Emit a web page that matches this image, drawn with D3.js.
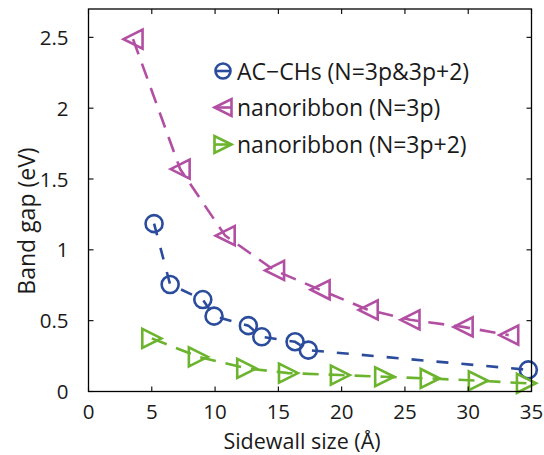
<!DOCTYPE html>
<html>
<head>
<meta charset="utf-8">
<script src="https://cdn.jsdelivr.net/npm/d3@7"></script>
<style>
  body { margin: 0; background: #fff; }
  text { font-family: "Open Sans", sans-serif; fill: #1a1a1a; }
</style>
</head>
<body>
<svg id="chart"></svg>
<script>
// data
const acX = [5.18, 6.45, 9.03, 9.92, 12.63, 13.69, 16.32, 17.37, 34.75];
const acY = [1.185, 0.755, 0.649, 0.532, 0.465, 0.386, 0.351, 0.292, 0.153];

const n3pX = [3.52, 7.24, 10.8, 14.7, 18.3, 22.1, 25.4, 29.6, 33.2];
const n3pY = [2.487, 1.57, 1.1, 0.855, 0.718, 0.576, 0.506, 0.456, 0.398];

const n3p2X = [5.0, 8.68, 12.5, 15.8, 19.9, 23.4, 27.0, 30.8, 34.6];
const n3p2Y = [0.375, 0.245, 0.163, 0.13, 0.116, 0.104, 0.092, 0.076, 0.058];

const xTicks = [0, 5, 10, 15, 20, 25, 30, 35];
const yTicks = [0, 0.5, 1, 1.5, 2, 2.5];
const yTickLabels = ["0", "0.5", "1", "1.5", "2", "2.5"];

const seriesNames = ["AC\u2212CHs (N=3p&3p+2)", "nanoribbon (N=3p)", "nanoribbon (N=3p+2)"];
const seriesColors = ["#2b4c9c", "#b24fa2", "#6cb32e"];

const width = 544, height = 455;
const margin = { left: 88.5, right: 12.5, top: 9, bottom: 63.5 };

const svg = d3.select("#chart").attr("width", width).attr("height", height);

const x = d3.scaleLinear().domain([0, 35]).range([margin.left, width - margin.right]);
const y = d3.scaleLinear().domain([0, 2.7]).range([height - margin.bottom, margin.top]);

const tickLen = 5;

// series
let series = [
  { xs: acX, ys: acY, marker: "circle", dash: "12,13" },
  { xs: n3pX, ys: n3pY, marker: "left", dash: "16,10" },
  { xs: n3p2X, ys: n3p2Y, marker: "right", dash: "16,10" },
];

let line = d3.line().x((d) => x(d[0])).y((d) => y(d[1]));

function markerPath(type, s) {
  // triangle marker, s = half size
  if (type == "left") return `M${-s},0L${s},${-s}L${s},${s}Z`;
  return `M${s},0L${-s},${-s}L${-s},${s}Z`;
}

series.forEach((sr, i) => {
  let pts = sr.xs.map((v, j) => [v, sr.ys[j]]);
  let g = svg.append("g");
  g.append("path")
    .attr("d", line(pts))
    .style("fill", "none")
    .style("stroke", seriesColors[i])
    .style("stroke-width", 2.6)
    .style("stroke-dasharray", sr.dash);

  if (sr.marker == "circle") {
    g.selectAll("circle")
      .data(pts)
      .join("circle")
      .attr("cx", (d) => x(d[0]))
      .attr("cy", (d) => y(d[1]))
      .attr("r", 8.5)
      .style("fill", "none")
      .style("stroke", seriesColors[i])
      .style("stroke-width", 2.6);
  } else {
    g.selectAll(".tri")
      .data(pts)
      .join("path")
      .attr("class", "tri")
      .attr("transform", (d) => `translate(${x(d[0])},${y(d[1])})`)
      .attr("d", markerPath(sr.marker, 9.5))
      .style("fill", "none")
      .style("stroke", seriesColors[i])
      .style("stroke-width", 2.6)
      .style("stroke-linejoin", "miter");
  }
});

// frame and ticks
let frame = svg.append("g");
frame.append("rect")
  .attr("x", margin.left)
  .attr("y", margin.top)
  .attr("width", width - margin.left - margin.right)
  .attr("height", height - margin.top - margin.bottom)
  .style("fill", "none")
  .style("stroke", "#000")
  .style("stroke-width", 1.3);

xTicks.forEach((t) => {
  frame.append("line")
    .attr("x1", x(t)).attr("x2", x(t))
    .attr("y1", y(0)).attr("y2", y(0) - tickLen)
    .style("stroke", "#000").style("stroke-width", 1.1);
  frame.append("line")
    .attr("x1", x(t)).attr("x2", x(t))
    .attr("y1", margin.top).attr("y2", margin.top + tickLen)
    .style("stroke", "#000").style("stroke-width", 1.1);
  frame.append("text")
    .attr("x", x(t))
    .attr("y", y(0) + 27.5)
    .attr("text-anchor", "middle")
    .style("font-size", "20.5px")
    .text(t);
});

yTicks.forEach((t, i) => {
  frame.append("line")
    .attr("x1", margin.left).attr("x2", margin.left + tickLen)
    .attr("y1", y(t)).attr("y2", y(t))
    .style("stroke", "#000").style("stroke-width", 1.1);
  frame.append("line")
    .attr("x1", width - margin.right).attr("x2", width - margin.right - tickLen)
    .attr("y1", y(t)).attr("y2", y(t))
    .style("stroke", "#000").style("stroke-width", 1.1);
  frame.append("text")
    .attr("x", margin.left - 20)
    .attr("y", y(t) + 7.5)
    .attr("text-anchor", "end")
    .style("font-size", "20.5px")
    .text(yTickLabels[i]);
});

// axis labels
svg.append("text")
  .attr("x", 302)
  .attr("y", 448.5)
  .attr("text-anchor", "middle")
  .style("font-size", "21.5px")
  .text("Sidewall size (\u00C5)");

svg.append("text")
  .attr("transform", "translate(35,221) rotate(-90)")
  .attr("text-anchor", "middle")
  .style("font-size", "23px")
  .text("Band gap (eV)");

// legend
let legend = svg.append("g");
let legendRows = [71, 107.5, 144.5];
let legendMarkers = ["circle", "left", "right"];
seriesNames.forEach((name, i) => {
  let ly = legendRows[i];
  let lx = 223;
  legend.append("line")
    .attr("x1", lx - 8).attr("x2", lx + 8)
    .attr("y1", ly).attr("y2", ly)
    .style("stroke", seriesColors[i])
    .style("stroke-width", 2.6);
  if (legendMarkers[i] == "circle") {
    legend.append("circle")
      .attr("cx", lx).attr("cy", ly).attr("r", 7.5)
      .style("fill", "none")
      .style("stroke", seriesColors[i])
      .style("stroke-width", 2.6);
  } else {
    legend.append("path")
      .attr("transform", `translate(${lx},${ly})`)
      .attr("d", markerPath(legendMarkers[i], 8.5))
      .style("fill", "none")
      .style("stroke", seriesColors[i])
      .style("stroke-width", 2.6);
  }
  legend.append("text")
    .attr("x", 237)
    .attr("y", ly + 8.5)
    .style("font-size", "23px")
    .text(name);
});
</script>
</body>
</html>
